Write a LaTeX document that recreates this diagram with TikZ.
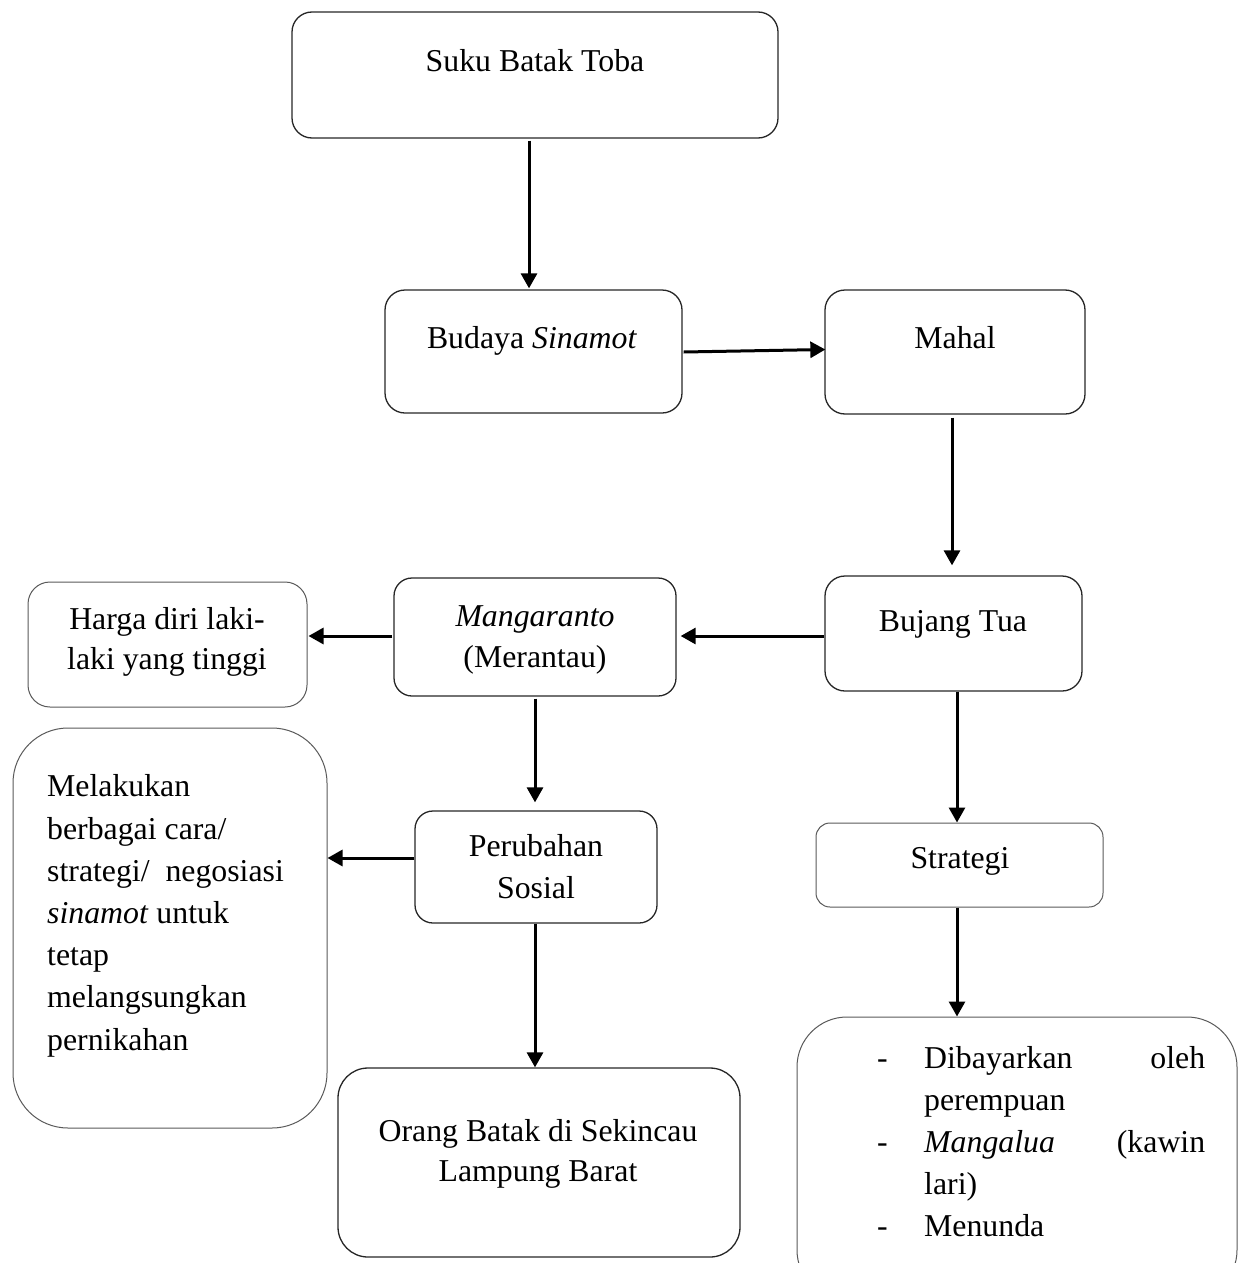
\documentclass[tikz,border=0pt]{standalone}
\usepackage{fontspec}
\setmainfont{Liberation Serif}
\usetikzlibrary{arrows.meta}
\begin{document}
\begin{tikzpicture}[x=1pt,y=-1pt,
  box/.style={draw=black!85, line width=1.3pt, rounded corners=20pt, inner sep=0pt},
  lightbox/.style={box, draw=black!65, line width=1pt},
  txt/.style={inner sep=0pt, font=\fontsize{31.8}{41}\selectfont, align=center, anchor=base},
  ltxt/.style={inner sep=0pt, font=\fontsize{31.8}{42.2}\selectfont, align=left, anchor=base west},
  arr/.style={line width=3pt, -{Triangle[length=15pt,width=16pt]}}]
\useasboundingbox (0,0) rectangle (1248,1263);
\clip (0,0) rectangle (1248,1263);

% boxes
\node[box, minimum width=486pt, minimum height=126pt] (s) at (535,75) {};
\node[box, minimum width=297pt, minimum height=123pt] (b) at (533.5,351.5) {};
\node[box, minimum width=260pt, minimum height=124pt] (m) at (955,352) {};
\node[box, minimum width=257pt, minimum height=115pt] (bt) at (953.5,633.5) {};
\node[box, rounded corners=18pt, minimum width=282pt, minimum height=118pt] (mg) at (535,637) {};
\node[lightbox, rounded corners=22pt, minimum width=279pt, minimum height=125pt] (h) at (167.5,644.5) {};
\node[box, rounded corners=18pt, minimum width=242pt, minimum height=112pt] (p) at (536,867) {};
\node[lightbox, rounded corners=55pt, minimum width=314pt, minimum height=400pt] (mk) at (170,928) {};
\node[box, rounded corners=30pt, minimum width=402pt, minimum height=189pt] (o) at (539,1162.5) {};
\node[lightbox, rounded corners=14pt, minimum width=287pt, minimum height=84pt] (st) at (959.5,865) {};
\node[lightbox, rounded corners=50pt, minimum width=440pt, minimum height=283pt] (br) at (1017,1158.5) {};

% texts (base = baseline of the last line)
\node[txt] (ts) at (535,71) {Suku Batak Toba};
\node[txt] (tb) at (532,348) {Budaya \textit{Sinamot}};
\node[txt] (tm) at (955,348) {Mahal};
\node[txt] (tbt) at (953,631) {Bujang Tua};
\node[txt] (tmg) at (535,667) {\textit{Mangaranto}\\(Merantau)};
\node[txt, font=\fontsize{31.8}{40}\selectfont] (th) at (167,669) {Harga diri laki-\\laki yang tinggi};
\node[txt, font=\fontsize{31.8}{42}\selectfont] (tp) at (536,898) {Perubahan\\Sosial};
\node[ltxt] (tmk) at (47,1050) {Melakukan\\berbagai cara/\\strategi/\ \ negosiasi\\\textit{sinamot} untuk\\tetap\\melangsungkan\\pernikahan};
\node[txt, font=\fontsize{31.8}{40}\selectfont] (to) at (538,1181) {Orang Batak di Sekincau\\Lampung Barat};
\node[txt] (tst) at (960,868) {Strategi};
\node[ltxt, font=\fontsize{31.8}{42}\selectfont] (tbr) at (877,1236) {%
\hbox to 328pt{\hbox to 47pt{-\hss}Dibayarkan\hfill oleh}\\
\hbox{\hskip47pt perempuan}\\
\hbox to 328pt{\hbox to 47pt{-\hss}\textit{Mangalua}\hfill (kawin}\\
\hbox{\hskip47pt lari)}\\
\hbox{\hbox to 47pt{-\hss}Menunda}};

% connectors
\draw[arr] ([xshift=-6pt,yshift=-2pt]s.south) -- ([xshift=-6pt,yshift=1pt]s.south |- b.north);
\draw[arr] ([xshift=1pt,yshift=-0.5pt]b.east) -- ([xshift=1pt,yshift=2.5pt]m.west);
\draw[arr] ([xshift=-3pt,yshift=-3pt]m.south) -- ([xshift=-3pt,yshift=10pt]m.south |- bt.north);
\draw[arr] ([yshift=-2.5pt]bt.west) -- ([xshift=4pt,yshift=1pt]mg.east);
\draw[arr] ([xshift=-1pt,yshift=1pt]mg.west) -- ([xshift=1pt,yshift=8.5pt]h.east);
\draw[arr] ([yshift=-2pt]mg.south) -- ([xshift=-1pt,yshift=8pt]p.north);
\draw[arr] ([yshift=9pt]p.west) -- ([yshift=9pt]p.west -| mk.east);
\draw[arr] ([xshift=-1pt]p.south) -- ([xshift=-1pt]p.south |- o.north);
\draw[arr] ([xshift=3.5pt]bt.south) -- ([xshift=3.5pt]bt.south |- st.north);
\draw[arr] ([xshift=-2.5pt]st.south) -- ([xshift=-2.5pt]st.south |- br.north);
\end{tikzpicture}
\end{document}
